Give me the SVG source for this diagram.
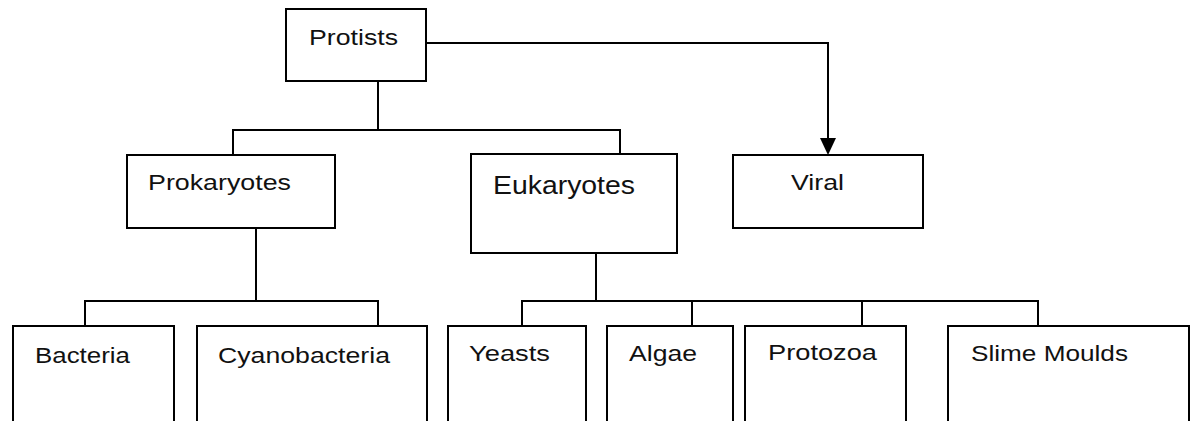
<svg xmlns="http://www.w3.org/2000/svg" width="1195" height="421" viewBox="0 0 1195 421">
<defs>
<style>
.box{fill:#fff;stroke:#000;stroke-width:2}
.lbl{font-family:"Liberation Sans",Arial,sans-serif;font-size:22px;fill:#111}
.conn{fill:none;stroke:#000;stroke-width:2}
.head{fill:#000}
</style>
</defs>
<rect width="1195" height="421" fill="#fff"/>
<g id="connectors">
<polyline class="conn" points="426,43 828,43 828,140"/>
<path class="head" d="M820,138 L836,138 L828,155 Z"/>
<polyline class="conn" points="378,81 378,130"/>
<polyline class="conn" points="233,155 233,130 620,130 620,154"/>
<polyline class="conn" points="256,228 256,301"/>
<polyline class="conn" points="85,326 85,301 378,301 378,326"/>
<polyline class="conn" points="596,253 596,301"/>
<polyline class="conn" points="522,326 522,301 1038,301 1038,326"/>
<line class="conn" x1="692" y1="301" x2="692" y2="326"/>
<line class="conn" x1="862" y1="301" x2="862" y2="326"/>
</g>
<g id="protists"><rect class="box" x="286" y="9" width="140" height="72"/><text class="lbl" x="309" y="45" textLength="89" lengthAdjust="spacingAndGlyphs">Protists</text></g>
<g id="prokaryotes"><rect class="box" x="127" y="155" width="208" height="73"/><text class="lbl" x="148" y="190" textLength="143" lengthAdjust="spacingAndGlyphs">Prokaryotes</text></g>
<g id="eukaryotes"><rect class="box" x="471" y="154" width="206" height="99"/><text class="lbl" x="493" y="194" style="font-size:26px" textLength="142" lengthAdjust="spacingAndGlyphs">Eukaryotes</text></g>
<g id="viral"><rect class="box" x="733" y="155" width="190" height="73"/><text class="lbl" x="791" y="190" textLength="53" lengthAdjust="spacingAndGlyphs">Viral</text></g>
<g id="bacteria"><rect class="box" x="13" y="326" width="161" height="120"/><text class="lbl" x="35" y="363" textLength="95" lengthAdjust="spacingAndGlyphs">Bacteria</text></g>
<g id="cyanobacteria"><rect class="box" x="197" y="326" width="230" height="120"/><text class="lbl" x="218" y="363" textLength="172" lengthAdjust="spacingAndGlyphs">Cyanobacteria</text></g>
<g id="yeasts"><rect class="box" x="448" y="326" width="138" height="120"/><text class="lbl" x="469" y="361" textLength="81" lengthAdjust="spacingAndGlyphs">Yeasts</text></g>
<g id="algae"><rect class="box" x="607" y="326" width="126" height="120"/><text class="lbl" x="629" y="361" textLength="68" lengthAdjust="spacingAndGlyphs">Algae</text></g>
<g id="protozoa"><rect class="box" x="745" y="326" width="161" height="120"/><text class="lbl" x="768" y="360" textLength="109" lengthAdjust="spacingAndGlyphs">Protozoa</text></g>
<g id="slime-moulds"><rect class="box" x="948" y="326" width="241" height="120"/><text class="lbl" x="971" y="361" textLength="157" lengthAdjust="spacingAndGlyphs">Slime Moulds</text></g>
</svg>
